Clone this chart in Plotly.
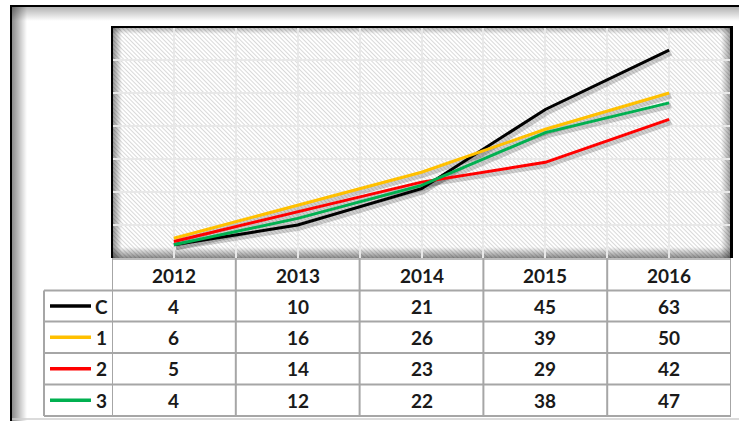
"""Excel-style line chart with a data table underneath, rebuilt in Plotly."""

import base64

import plotly.graph_objects as go


YEARS = [2012, 2013, 2014, 2015, 2016]
SERIES_NAMES = ["C", "1", "2", "3"]
C_VALUES = [4, 10, 21, 45, 63]
S1_VALUES = [6, 16, 26, 39, 50]
S2_VALUES = [5, 14, 23, 29, 42]
S3_VALUES = [4, 12, 22, 38, 47]
SERIES_VALUES = [C_VALUES, S1_VALUES, S2_VALUES, S3_VALUES]
COLORS = ["#000000", "#FFC000", "#FF0000", "#00B050"]

W, H = 739, 421
PLOT_L, PLOT_R, PLOT_T, PLOT_B = 112, 731, 27, 258
TABLE_L = 44
ROW_EDGES = [258, 290.5, 321.5, 353, 384.5, 416]
Y_MAX = 70
GRID = "#e8e8e8"
TABLE_LINE = "#a6a6a6"
FONT = "Lato, 'Open Sans', sans-serif"
TEXT_SIZE = 19


def px(x):
    return x / W


def py(y):
    return 1 - y / H


def svg_uri(svg: str) -> str:
    return "data:image/svg+xml;base64," + base64.b64encode(svg.encode()).decode()


def hatch_svg(w: int, h: int) -> str:
    # diagonal hatch with a soft inner shadow, like the Excel plot-area fill
    return f"""<svg xmlns="http://www.w3.org/2000/svg" width="{w}" height="{h}" viewBox="0 0 {w} {h}" preserveAspectRatio="none">
<defs>
<pattern id="h" width="3" height="3" patternUnits="userSpaceOnUse" patternTransform="rotate(-45)">
<rect width="3" height="3" fill="#ffffff"/><rect width="1" height="3" fill="#d9d9d9"/>
</pattern>
<linearGradient id="l" x1="0" x2="1" y1="0" y2="0"><stop offset="0" stop-color="#000" stop-opacity="0.45"/><stop offset="1" stop-color="#000" stop-opacity="0"/></linearGradient>
<linearGradient id="r" x1="1" x2="0" y1="0" y2="0"><stop offset="0" stop-color="#000" stop-opacity="0.4"/><stop offset="1" stop-color="#000" stop-opacity="0"/></linearGradient>
<linearGradient id="t" x1="0" x2="0" y1="0" y2="1"><stop offset="0" stop-color="#000" stop-opacity="0.3"/><stop offset="1" stop-color="#000" stop-opacity="0"/></linearGradient>
<linearGradient id="b" x1="0" x2="0" y1="1" y2="0"><stop offset="0" stop-color="#000" stop-opacity="0.45"/><stop offset="1" stop-color="#000" stop-opacity="0"/></linearGradient>
</defs>
<rect width="{w}" height="{h}" fill="url(#h)"/>
<rect x="0" y="0" width="10" height="{h}" fill="url(#l)"/>
<rect x="{w - 10}" y="0" width="10" height="{h}" fill="url(#r)"/>
<rect x="0" y="0" width="{w}" height="7" fill="url(#t)"/>
<rect x="0" y="{h - 11}" width="{w}" height="11" fill="url(#b)"/>
</svg>"""


def frame_svg(w: int, h: int) -> str:
    return f"""<svg xmlns="http://www.w3.org/2000/svg" width="{w}" height="{h}" viewBox="0 0 {w} {h}" preserveAspectRatio="none">
<defs>
<linearGradient id="l" x1="0" x2="1" y1="0" y2="0"><stop offset="0" stop-color="#000" stop-opacity="0.45"/><stop offset="1" stop-color="#000" stop-opacity="0"/></linearGradient>
<linearGradient id="t" x1="0" x2="0" y1="0" y2="1"><stop offset="0" stop-color="#000" stop-opacity="0.3"/><stop offset="1" stop-color="#000" stop-opacity="0"/></linearGradient>
</defs>
<rect width="{w}" height="{h}" fill="#ffffff"/>
<rect x="0" y="0" width="15" height="{h}" fill="url(#l)"/>
<rect x="0" y="0" width="{w}" height="14" fill="url(#t)"/>
</svg>"""


def cell_text(x, y, text, xref="x"):
    return dict(x=x, y=y, xref=xref, yref="paper", text=f"<b>{text}</b>", showarrow=False,
                xanchor="center", yanchor="middle",
                font=dict(size=TEXT_SIZE, color="#1a1a1a", family=FONT))


x_range = [YEARS[0] - 0.5, YEARS[-1] + 0.5]
x_per_px = (x_range[1] - x_range[0]) / (PLOT_R - PLOT_L)
y_per_px = Y_MAX / (PLOT_B - PLOT_T)
shadow_dx, shadow_dy = 2, 2.5

fig = go.Figure()

# soft drop shadows, drawn on a slightly shifted overlay axis pair
for vals in SERIES_VALUES:
    fig.add_trace(
        go.Scatter(
            x=YEARS, y=vals, mode="lines", xaxis="x2", yaxis="y2",
            line=dict(color="rgba(0,0,0,0.18)", width=6),
            hoverinfo="skip", showlegend=False,
        )
    )

for name, vals, color in zip(SERIES_NAMES, SERIES_VALUES, COLORS):
    fig.add_trace(
        go.Scatter(
            x=YEARS, y=vals, mode="lines", name=name, xaxis="x3", yaxis="y3",
            line=dict(color=color, width=3),
            showlegend=False,
        )
    )

x_dom = [px(PLOT_L), px(PLOT_R)]
y_dom = [py(PLOT_B), py(PLOT_T)]
hidden = dict(visible=False, showgrid=False, zeroline=False, fixedrange=True)

shapes = []
# outer panel border
shapes.append(dict(type="line", xref="paper", yref="paper", x0=px(10), x1=px(W + 2), y0=py(6), y1=py(6),
                   line=dict(color="#000000", width=2)))
shapes.append(dict(type="line", xref="paper", yref="paper", x0=px(11), x1=px(11), y0=py(5), y1=py(H + 2),
                   line=dict(color="#000000", width=2)))
shapes.append(dict(type="line", xref="paper", yref="paper", x0=px(12), x1=px(W + 2), y0=py(419), y1=py(419),
                   line=dict(color="#cfcfcf", width=1.5)))

# table grid
for yy in ROW_EDGES[1:]:
    shapes.append(dict(type="line", xref="paper", yref="paper", x0=px(TABLE_L), x1=px(PLOT_R),
                       y0=py(yy), y1=py(yy), line=dict(color=TABLE_LINE, width=2)))
shapes.append(dict(type="line", xref="paper", yref="paper", x0=px(PLOT_L), x1=px(PLOT_R),
                   y0=py(ROW_EDGES[0] + 1), y1=py(ROW_EDGES[0] + 1), line=dict(color=TABLE_LINE, width=1.5)))
shapes.append(dict(type="line", xref="paper", yref="paper", x0=px(TABLE_L), x1=px(TABLE_L),
                   y0=py(ROW_EDGES[1]), y1=py(ROW_EDGES[-1]), line=dict(color=TABLE_LINE, width=2)))
for yr in YEARS + [YEARS[-1] + 1]:
    shapes.append(dict(type="line", xref="x", yref="paper", x0=yr - 0.5, x1=yr - 0.5,
                       y0=py(ROW_EDGES[0]), y1=py(ROW_EDGES[-1]), line=dict(color=TABLE_LINE, width=2)))

# plot-area border (black on top, left and right)
shapes.append(dict(type="line", xref="paper", yref="paper", x0=px(PLOT_L), x1=px(PLOT_R + 1),
                   y0=py(PLOT_T), y1=py(PLOT_T), line=dict(color="#000000", width=2)))
shapes.append(dict(type="line", xref="paper", yref="paper", x0=px(PLOT_L), x1=px(PLOT_L),
                   y0=py(PLOT_T - 1), y1=py(PLOT_B), line=dict(color="#000000", width=2)))
shapes.append(dict(type="line", xref="paper", yref="paper", x0=px(PLOT_R + 0.5), x1=px(PLOT_R + 0.5),
                   y0=py(PLOT_T - 1), y1=py(PLOT_B), line=dict(color="#000000", width=3)))

annotations = []
header_mid = (ROW_EDGES[0] + ROW_EDGES[1]) / 2 + 1
for yr in YEARS:
    annotations.append(cell_text(yr, py(header_mid), yr))

for i, (name, vals, color) in enumerate(zip(SERIES_NAMES, SERIES_VALUES, COLORS)):
    mid = (ROW_EDGES[i + 1] + ROW_EDGES[i + 2]) / 2
    for yr, v in zip(YEARS, vals):
        annotations.append(cell_text(yr, py(mid), v))
    # legend key + series label
    shapes.append(dict(type="line", xref="paper", yref="paper", x0=px(50), x1=px(91),
                       y0=py(mid), y1=py(mid), line=dict(color=color, width=3.5)))
    annotations.append(cell_text(px(101.5), py(mid), name, xref="paper"))

fig.update_layout(
    width=W,
    height=H,
    margin=dict(l=0, r=0, t=0, b=0),
    paper_bgcolor="#ffffff",
    plot_bgcolor="rgba(0,0,0,0)",
    showlegend=False,
    xaxis=dict(domain=x_dom, range=x_range, tick0=x_range[0], dtick=0.5, showgrid=True,
               gridcolor=GRID, gridwidth=2, showticklabels=False, ticks="", zeroline=False,
               showline=False, fixedrange=True),
    yaxis=dict(domain=y_dom, range=[0, Y_MAX], dtick=10, showgrid=True, gridcolor=GRID,
               gridwidth=2, showticklabels=False, ticks="", zeroline=False, showline=False,
               fixedrange=True),
    xaxis2=dict(overlaying="x", domain=x_dom,
                range=[x_range[0] - shadow_dx * x_per_px, x_range[1] - shadow_dx * x_per_px], **hidden),
    yaxis2=dict(overlaying="y", domain=y_dom,
                range=[shadow_dy * y_per_px, Y_MAX + shadow_dy * y_per_px], **hidden),
    xaxis3=dict(overlaying="x", domain=x_dom, range=x_range, **hidden),
    yaxis3=dict(overlaying="y", domain=y_dom, range=[0, Y_MAX], **hidden),
    images=[
        dict(source=svg_uri(frame_svg(W - 12, H - 7)), xref="paper", yref="paper",
             x=px(12), y=py(7), sizex=px(W - 12), sizey=(H - 7) / H,
             xanchor="left", yanchor="top", sizing="stretch", layer="below"),
        dict(source=svg_uri(hatch_svg(PLOT_R - PLOT_L, PLOT_B - PLOT_T)), xref="paper", yref="paper",
             x=px(PLOT_L), y=py(PLOT_T), sizex=px(PLOT_R - PLOT_L), sizey=(PLOT_B - PLOT_T) / H,
             xanchor="left", yanchor="top", sizing="stretch", layer="below"),
    ],
    shapes=shapes,
    annotations=annotations,
    hovermode="closest",
)

# the page's default body margin would push the 739x421 figure off the window
fig.write_html("out.html", config={"displayModeBar": False},
               post_script="document.body.style.margin='0';")
